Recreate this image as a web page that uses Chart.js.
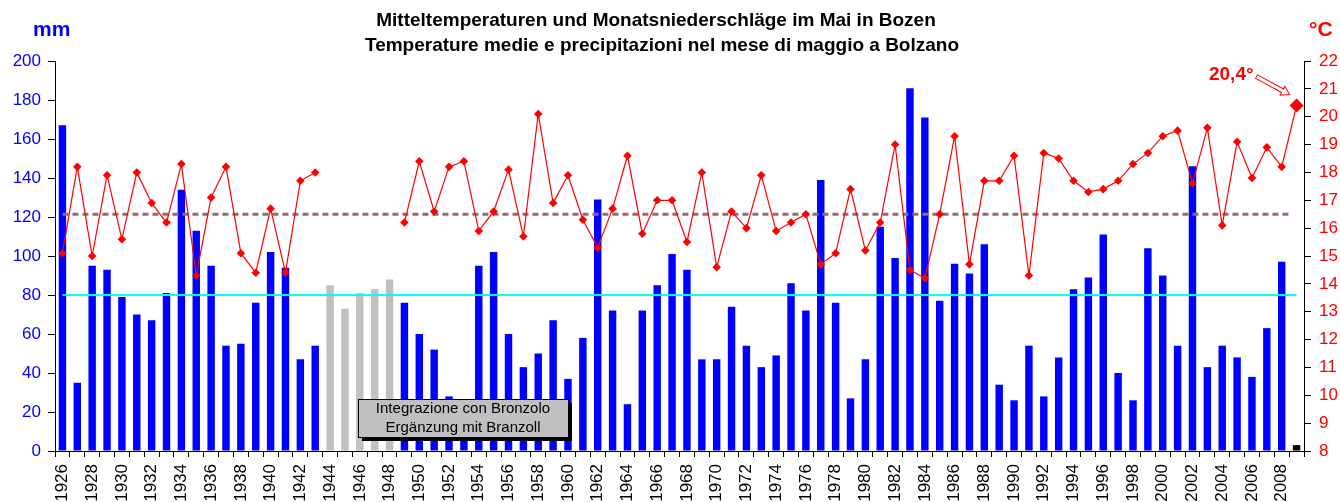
<!DOCTYPE html>
<html>
<head>
<meta charset="utf-8">
<script src="https://cdn.jsdelivr.net/npm/chart.js"></script>
<style>
  html, body { margin: 0; padding: 0; background: #fff; }
  #wrap { width: 1340px; height: 502px; }
</style>
</head>
<body>
<div id="wrap"><canvas id="myChart" width="1340" height="502"></canvas></div>
<script>
// Jahre / anni (Mai / maggio)
const years = [
  1926, 1927, 1928, 1929, 1930, 1931, 1932, 1933, 1934, 1935,
  1936, 1937, 1938, 1939, 1940, 1941, 1942, 1943, 1944, 1945,
  1946, 1947, 1948, 1949, 1950, 1951, 1952, 1953, 1954, 1955,
  1956, 1957, 1958, 1959, 1960, 1961, 1962, 1963, 1964, 1965,
  1966, 1967, 1968, 1969, 1970, 1971, 1972, 1973, 1974, 1975,
  1976, 1977, 1978, 1979, 1980, 1981, 1982, 1983, 1984, 1985,
  1986, 1987, 1988, 1989, 1990, 1991, 1992, 1993, 1994, 1995,
  1996, 1997, 1998, 1999, 2000, 2001, 2002, 2003, 2004, 2005,
  2006, 2007, 2008, 2009
];

// Niederschlag mm
const precipitation = [
  167, 35, 95, 93, 79, 70, 67, 81, 134, 113,
  95, 54, 55, 76, 102, 94, 47, 54, 85, 73,
  81, 83, 88, 76, 60, 52, 28, 12, 95, 102,
  60, 43, 50, 67, 37, 58, 129, 72, 24, 72,
  85, 101, 93, 47, 47, 74, 54, 43, 49, 86,
  72, 139, 76, 27, 47, 115, 99, 186, 171, 77,
  96, 91, 106, 34, 26, 54, 28, 48, 83, 89,
  111, 40, 26, 104, 90, 54, 146, 43, 54, 48,
  38, 63, 97, 3
];

// Mitteltemperatur °C (1944-1948 keine Werte)
const temperature = [
  15.1, 18.2, 15.0, 17.9, 15.6, 18.0, 16.9, 16.2, 18.3, 14.3,
  17.1, 18.2, 15.1, 14.4, 16.7, 14.4, 17.7, 18.0, null, null,
  null, null, null, 16.2, 18.4, 16.6, 18.2, 18.4, 15.9, 16.6,
  18.1, 15.7, 20.1, 16.9, 17.9, 16.3, 15.3, 16.7, 18.6, 15.8,
  17.0, 17.0, 15.5, 18.0, 14.6, 16.6, 16.0, 17.9, 15.9, 16.2,
  16.5, 14.7, 15.1, 17.4, 15.2, 16.2, 19.0, 14.5, 14.2, 16.5,
  19.3, 14.7, 17.7, 17.7, 18.6, 14.3, 18.7, 18.5, 17.7, 17.3,
  17.4, 17.7, 18.3, 18.7, 19.3, 19.5, 17.6, 19.6, 16.1, 19.1,
  17.8, 18.9, 18.2, 20.4
];

const bronzoloYears = [1944, 1945, 1946, 1947, 1948];
const currentYear = 2009;
const precipMean = 80;
const tempMean = 16.5;

const titleLines = [
  'Mitteltemperaturen und Monatsniederschläge im Mai in Bozen',
  'Temperature medie e precipitazioni nel mese di maggio a Bolzano'
];
const boxLines = ['Integrazione con Bronzolo', 'Ergänzung mit Branzoll'];
const lastLabel = '20,4°';

const FONT = 'Arial, "Liberation Sans", sans-serif';

const barColors = years.map(y =>
  bronzoloYears.includes(y) ? '#c0c0c0' : (y === currentYear ? '#000000' : '#0000ff'));
const pointSizes = years.map(y => y === currentYear ? 7 : 4.3);

const extras = {
  id: 'extras',
  beforeDatasetDraw(chart, args) {
    if (args.meta.type !== 'line') return;
    const ctx = chart.ctx;
    const x = chart.scales.x, y = chart.scales.y, y1 = chart.scales.y1;
    const x0 = x.getPixelForValue(0), x1 = x.getPixelForValue(years.length - 1);
    ctx.save();
    // Mittelwert Niederschlag
    ctx.strokeStyle = '#00ffff';
    ctx.lineWidth = 2;
    let py = y.getPixelForValue(precipMean);
    ctx.beginPath(); ctx.moveTo(x0, py); ctx.lineTo(x1, py); ctx.stroke();
    // Mittelwert Temperatur
    ctx.strokeStyle = '#986a6a';
    ctx.lineWidth = 3;
    ctx.setLineDash([6, 4]);
    py = y1.getPixelForValue(tempMean);
    ctx.beginPath(); ctx.moveTo(x0, py); ctx.lineTo(x1 - 6, py); ctx.stroke();
    ctx.restore();
  },
  afterDraw(chart) {
    const ctx = chart.ctx;
    ctx.save();
    // Titel
    ctx.fillStyle = '#000';
    ctx.font = 'bold 19px ' + FONT;
    ctx.textAlign = 'center';
    ctx.textBaseline = 'middle';
    ctx.fillText(titleLines[0], 656, 21);
    ctx.fillText(titleLines[1], 662, 46);

    // Achsentitel
    ctx.font = 'bold 21px ' + FONT;
    ctx.fillStyle = '#0000ff';
    ctx.textAlign = 'left';
    ctx.fillText('mm', 33, 30);
    ctx.fillStyle = '#ff0000';
    ctx.fillText('°C', 1309, 30);

    // Kasten Bronzolo
    const bx = 358, by = 399, bw = 210, bh = 38;
    ctx.fillStyle = '#000';
    ctx.fillRect(bx + 4, by + 4, bw, bh);
    ctx.fillStyle = '#c0c0c0';
    ctx.fillRect(bx, by, bw, bh);
    ctx.strokeStyle = '#000';
    ctx.lineWidth = 1;
    ctx.strokeRect(bx + 0.5, by + 0.5, bw, bh);
    ctx.fillStyle = '#000';
    ctx.font = '15px ' + FONT;
    ctx.textAlign = 'center';
    ctx.fillText(boxLines[0], bx + bw / 2, by + 10);
    ctx.fillText(boxLines[1], bx + bw / 2, by + 29);

    // letzter Wert
    const meta = chart.getDatasetMeta(0);
    const pt = meta.data[years.length - 1];
    ctx.fillStyle = '#ff0000';
    ctx.font = 'bold 19px ' + FONT;
    ctx.textAlign = 'right';
    ctx.fillText(lastLabel, pt.x - 43, pt.y - 31);
    // hohler Pfeil
    const ax = pt.x - 40, ay = pt.y - 29, ex = pt.x - 7, ey = pt.y - 11;
    const ang = Math.atan2(ey - ay, ex - ax), L = Math.hypot(ex - ax, ey - ay);
    ctx.translate(ax, ay);
    ctx.rotate(ang);
    ctx.beginPath();
    ctx.moveTo(0, -2); ctx.lineTo(L - 8, -2); ctx.lineTo(L - 8, -5);
    ctx.lineTo(L, 0); ctx.lineTo(L - 8, 5); ctx.lineTo(L - 8, 2); ctx.lineTo(0, 2);
    ctx.closePath();
    ctx.fillStyle = '#fff';
    ctx.fill();
    ctx.strokeStyle = '#ff0000';
    ctx.lineWidth = 1;
    ctx.stroke();
    ctx.restore();
  }
};

const ctx = document.getElementById('myChart').getContext('2d');
new Chart(ctx, {
  data: {
    labels: years,
    datasets: [
      {
        type: 'line',
        label: 'Temperatur',
        data: temperature,
        yAxisID: 'y1',
        order: 1,
        borderColor: '#ff0000',
        borderWidth: 1.2,
        backgroundColor: '#ff0000',
        pointStyle: 'rectRot',
        pointRadius: pointSizes,
        pointBorderWidth: 0,
        spanGaps: false,
        tension: 0
      },
      {
        type: 'bar',
        label: 'Niederschlag',
        data: precipitation,
        yAxisID: 'y',
        order: 2,
        backgroundColor: barColors,
        categoryPercentage: 1,
        barPercentage: 0.5
      }
    ]
  },
  options: {
    responsive: false,
    animation: false,
    layout: { padding: { top: 61, left: 0, right: 0, bottom: 0 } },
    plugins: { legend: { display: false }, tooltip: { enabled: false }, title: { display: false } },
    scales: {
      x: {
        grid: { drawOnChartArea: false, color: '#000', tickLength: 6, offset: true },
        border: { color: '#000' },
        ticks: {
          autoSkip: false,
          minRotation: 90,
          maxRotation: 90,
          padding: 7,
          color: '#000',
          font: { family: FONT, size: 17 },
          callback: (v, i) => years[i] % 2 === 0 ? String(years[i]) : ''
        },
        afterFit: s => { s.height = 51; }
      },
      y: {
        position: 'left',
        min: 0,
        max: 200,
        grid: { drawOnChartArea: false, color: '#000', tickLength: 7 },
        border: { color: '#000' },
        ticks: { stepSize: 20, color: '#0000ff', padding: 7, font: { family: FONT, size: 17 } },
        afterFit: s => { s.width = 55; }
      },
      y1: {
        position: 'right',
        min: 8,
        max: 22,
        grid: { drawOnChartArea: false, color: '#000', tickLength: 7 },
        border: { color: '#000' },
        ticks: { stepSize: 1, color: '#ff0000', padding: 8, font: { family: FONT, size: 17 } },
        afterFit: s => { s.width = 36; }
      }
    }
  },
  plugins: [extras]
});
</script>
</body>
</html>
